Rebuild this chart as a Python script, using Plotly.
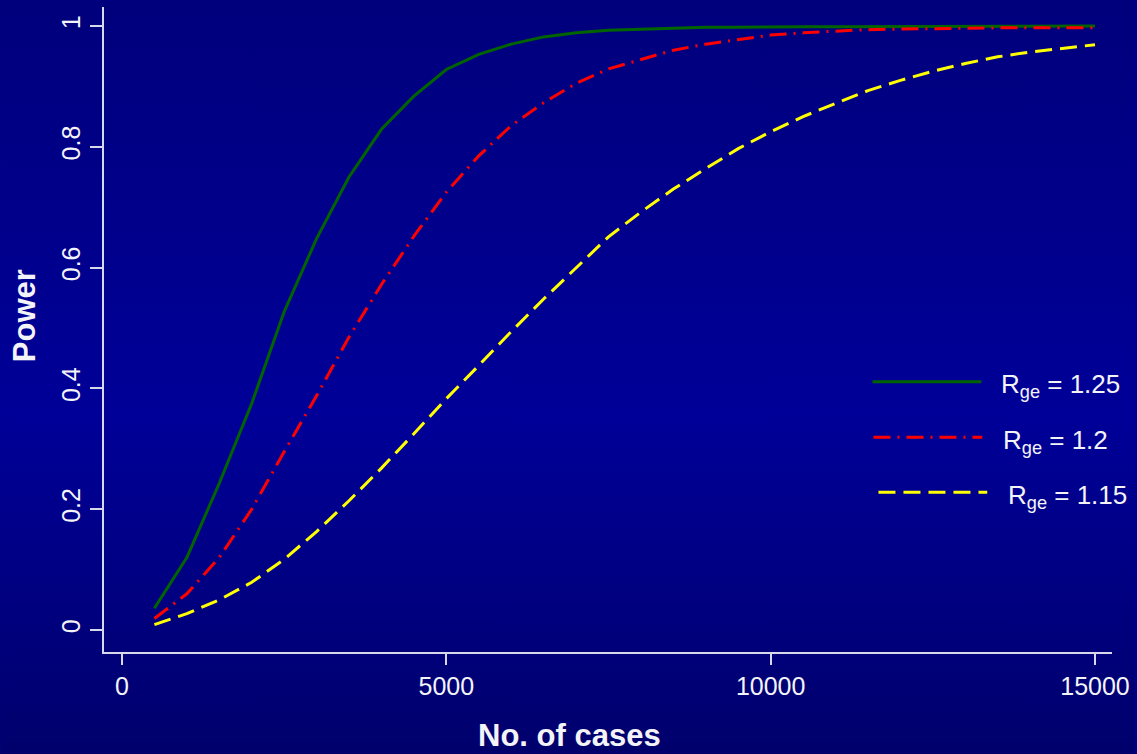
import base64
import plotly.graph_objects as go

# ---------------- data ----------------
cases = [500, 1000, 1500, 2000, 2500, 3000, 3500, 4000, 4500, 5000,
         5500, 6000, 6500, 7000, 7500, 8000, 8500, 9000, 9500, 10000,
         10500, 11000, 11500, 12000, 12500, 13000, 13500, 14000, 14500, 15000]

power_125 = [0.036, 0.120, 0.243, 0.375, 0.527, 0.648, 0.750, 0.829, 0.884, 0.928,
             0.953, 0.970, 0.982, 0.989, 0.993, 0.995, 0.997, 0.998, 0.998, 0.999,
             0.999, 0.999, 0.999, 1.000, 1.000, 1.000, 1.000, 1.000, 1.000, 1.000]

power_120 = [0.019, 0.060, 0.120, 0.200, 0.295, 0.388, 0.485, 0.572, 0.652, 0.725,
             0.785, 0.835, 0.873, 0.905, 0.929, 0.945, 0.960, 0.970, 0.978, 0.985,
             0.989, 0.992, 0.994, 0.995, 0.996, 0.996, 0.997, 0.997, 0.997, 0.997]

power_115 = [0.009, 0.027, 0.050, 0.079, 0.117, 0.163, 0.214, 0.268, 0.325, 0.383,
             0.438, 0.494, 0.548, 0.599, 0.651, 0.692, 0.730, 0.764, 0.797, 0.825,
             0.850, 0.872, 0.893, 0.910, 0.925, 0.938, 0.949, 0.957, 0.963, 0.969]

series_names = ["R<sub>ge</sub> = 1.25", "R<sub>ge</sub> = 1.2", "R<sub>ge</sub> = 1.15"]

x_title = "No. of cases"
y_title = "Power"

x_tick_vals = [0, 5000, 10000, 15000]
x_tick_text = ["0", "5000", "10000", "15000"]
y_tick_vals = [0, 0.2, 0.4, 0.6, 0.8, 1.0]
y_tick_text = ["0", "0.2", "0.4", "0.6", "0.8", "1"]

# ---------------- layout geometry ----------------
W, H = 1137, 754
ML, MR, MT, MB = 104, 23, 7, 102
PW, PH = W - ML - MR, H - MT - MB

def px(xp):
    return (xp - ML) / PW

def py(yp):
    return (H - MB - yp) / PH

FONT = "Arial, Liberation Sans, sans-serif"
TXT = "#f4f4f8"
AXC = "#d8d8ec"

colors = ["#006400", "#ff0000", "#ffff00"]
dashes = ["solid", "17px,7px,2px,7px", "17px,8px"]
series = [power_125, power_120, power_115]

fig = go.Figure()
for vals, c, d, n in zip(series, colors, dashes, series_names):
    fig.add_trace(go.Scatter(x=cases, y=vals, mode="lines", name=n,
                             line=dict(color=c, width=3, dash=d),
                             showlegend=False, hoverinfo="skip"))

# background gradient (svg data uri)
svg = ('<svg xmlns="http://www.w3.org/2000/svg" width="1137" height="754" '
       'preserveAspectRatio="none" viewBox="0 0 1137 754">'
       '<defs><linearGradient id="g" x1="0" y1="0" x2="0" y2="1">'
       '<stop offset="0" stop-color="#00007c"/>'
       '<stop offset="0.55" stop-color="#000098"/>'
       '<stop offset="1" stop-color="#00006c"/>'
       '</linearGradient></defs>'
       '<rect x="0" y="0" width="1137" height="754" fill="url(#g)"/></svg>')
src = "data:image/svg+xml;base64," + base64.b64encode(svg.encode()).decode()

fig.add_layout_image(dict(source=src, xref="paper", yref="paper",
                          x=px(0), y=py(0), sizex=W / PW, sizey=H / PH,
                          xanchor="left", yanchor="top", sizing="stretch",
                          layer="below", opacity=1))

# manual legend
leg = [(874, 983, 381.7, 1001), (875, 984, 437.3, 1003), (880, 989, 492.3, 1008)]
for (x0, x1, yy, tx), c, d, n in zip(leg, colors, dashes, series_names):
    fig.add_shape(type="line", xref="paper", yref="paper",
                  x0=px(x0), x1=px(x1), y0=py(yy), y1=py(yy),
                  line=dict(color=c, width=3, dash=d))
    fig.add_annotation(xref="paper", yref="paper", x=px(tx), y=py(yy + 4),
                       text=n, showarrow=False, xanchor="left", yanchor="middle",
                       font=dict(family=FONT, size=26, color=TXT))

# axis titles (positioned as in the reference)
fig.add_annotation(xref="paper", yref="paper", x=px(570), y=py(735),
                   text="<b>" + x_title + "</b>", showarrow=False,
                   xanchor="center", yanchor="middle",
                   font=dict(family=FONT, size=31, color=TXT))
fig.add_annotation(xref="paper", yref="paper", x=px(24), y=py(316),
                   text="<b>" + y_title + "</b>", showarrow=False, textangle=-90,
                   xanchor="center", yanchor="middle",
                   font=dict(family=FONT, size=31, color=TXT))

fig.update_layout(
    width=W, height=H,
    margin=dict(l=ML, r=MR, t=MT, b=MB, pad=0),
    paper_bgcolor="#00008a",
    plot_bgcolor="rgba(0,0,0,0)",
    font=dict(family=FONT, color=TXT),
    showlegend=False,
)

fig.update_xaxes(range=[-277, 15262], showgrid=False, zeroline=False,
                 showline=True, linecolor=AXC, linewidth=2,
                 ticks="outside", ticklen=11, tickwidth=2, tickcolor=AXC,
                 tickvals=x_tick_vals, ticktext=x_tick_text,
                 tickfont=dict(family=FONT, size=25, color=TXT))

fig.update_yaxes(range=[-0.0364, 1.0315], showgrid=False, zeroline=False,
                 showline=True, linecolor=AXC, linewidth=2,
                 ticks="outside", ticklen=12, tickwidth=2, tickcolor=AXC,
                 tickvals=y_tick_vals, ticktext=y_tick_text, tickangle=-90,
                 tickfont=dict(family=FONT, size=25, color=TXT))

fig.write_html("out.html",
               config={"displayModeBar": False},
               post_script="document.body.style.margin='0px';"
                           "document.body.style.padding='0px';"
                           "document.body.style.background='#00006c';")
